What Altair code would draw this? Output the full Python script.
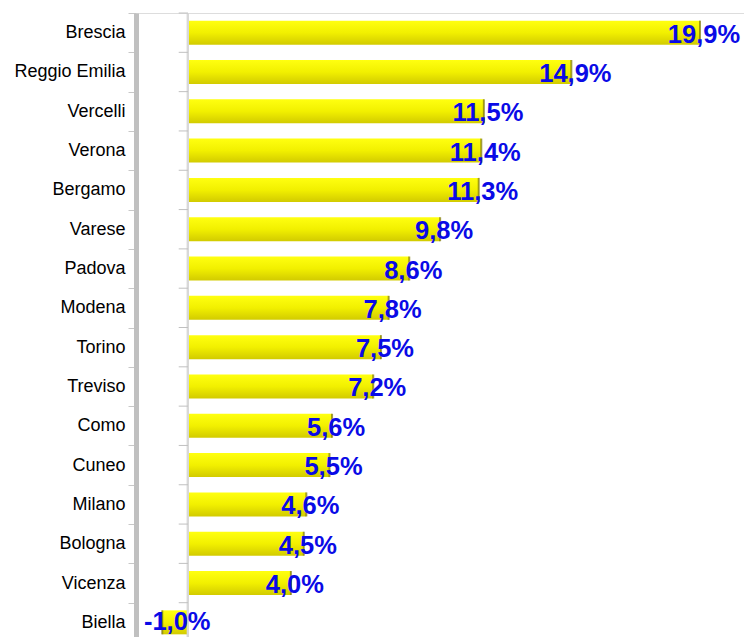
import altair as alt
import pandas as pd

cities = ["Brescia", "Reggio Emilia", "Vercelli", "Verona", "Bergamo", "Varese",
          "Padova", "Modena", "Torino", "Treviso", "Como", "Cuneo", "Milano",
          "Bologna", "Vicenza", "Biella"]
values = [19.9, 14.9, 11.5, 11.4, 11.3, 9.8, 8.6, 7.8, 7.5, 7.2, 5.6, 5.5, 4.6,
          4.5, 4.0, -1.0]

df = pd.DataFrame({
    "city": cities,
    "value": values,
    "label": [f"{v:.1f}%".replace(".", ",") for v in values],
})

xscale = alt.Scale(domain=[-2.02, 21.61], nice=False, zero=False)
yscale = alt.Scale(paddingInner=0, paddingOuter=0)
ysort = cities

grad = alt.Gradient(
    gradient="linear", x1=0, y1=0, x2=0, y2=1,
    stops=[alt.GradientStop(offset=0, color="#FFFF10"),
           alt.GradientStop(offset=0.5, color="#F2F000"),
           alt.GradientStop(offset=1, color="#D2CB00")],
)

base = alt.Chart(df)

bars = base.mark_bar(color=grad, height=alt.RelativeBandSize(0.61)).encode(
    x=alt.X("value:Q", scale=xscale, axis=None),
    y=alt.Y("city:N", sort=ysort, scale=yscale, title=None,
            axis=alt.Axis(orient="left", tickBand="extent", domainColor="#C0C0C0",
                          domainWidth=5, tickColor="#C8C8C8", tickSize=8,
                          labelFont="Liberation Sans", labelFontSize=18,
                          labelColor="#000000", labelPadding=3)),
)

edge = base.mark_tick(color="#7A7400", thickness=2, size=24).encode(
    x=alt.X("value:Q", scale=xscale),
    y=alt.Y("city:N", sort=ysort, scale=yscale),
)

zero_line = base.mark_rule(color="#D8D8D8", strokeWidth=2).encode(
    x=alt.datum(0, scale=xscale),
)

zero_ticks = base.mark_rule(color="#C0C0C0", strokeWidth=1).encode(
    x=alt.datum(-0.36),
    x2=alt.datum(0),
    y=alt.Y("city:N", sort=ysort, scale=yscale, bandPosition=0),
)

txt_pos = base.transform_filter(alt.datum.value >= 0).mark_text(
    font="Liberation Sans", fontWeight="bold", fontSize=25.5, color="#0A0AE6",
    align="center", baseline="middle", dx=4, dy=2,
).encode(
    x=alt.X("value:Q", scale=xscale),
    y=alt.Y("city:N", sort=ysort, scale=yscale),
    text="label:N",
)

txt_neg = base.transform_filter(alt.datum.value < 0).mark_text(
    font="Liberation Sans", fontWeight="bold", fontSize=25.5, color="#0A0AE6",
    align="center", baseline="middle", dx=15, dy=0,
).encode(
    x=alt.X("value:Q", scale=xscale),
    y=alt.Y("city:N", sort=ysort, scale=yscale),
    text="label:N",
)

chart = alt.layer(bars, zero_line, zero_ticks, edge, txt_pos, txt_neg).properties(
    width=608, height=629,
    autosize=alt.AutoSizeParams(type="none"),
    padding={"left": 136, "top": 13, "right": 0, "bottom": 0},
).configure_view(stroke=None).configure(background="white")

chart.save("out.html", embed_options={"renderer": "svg", "actions": False})
